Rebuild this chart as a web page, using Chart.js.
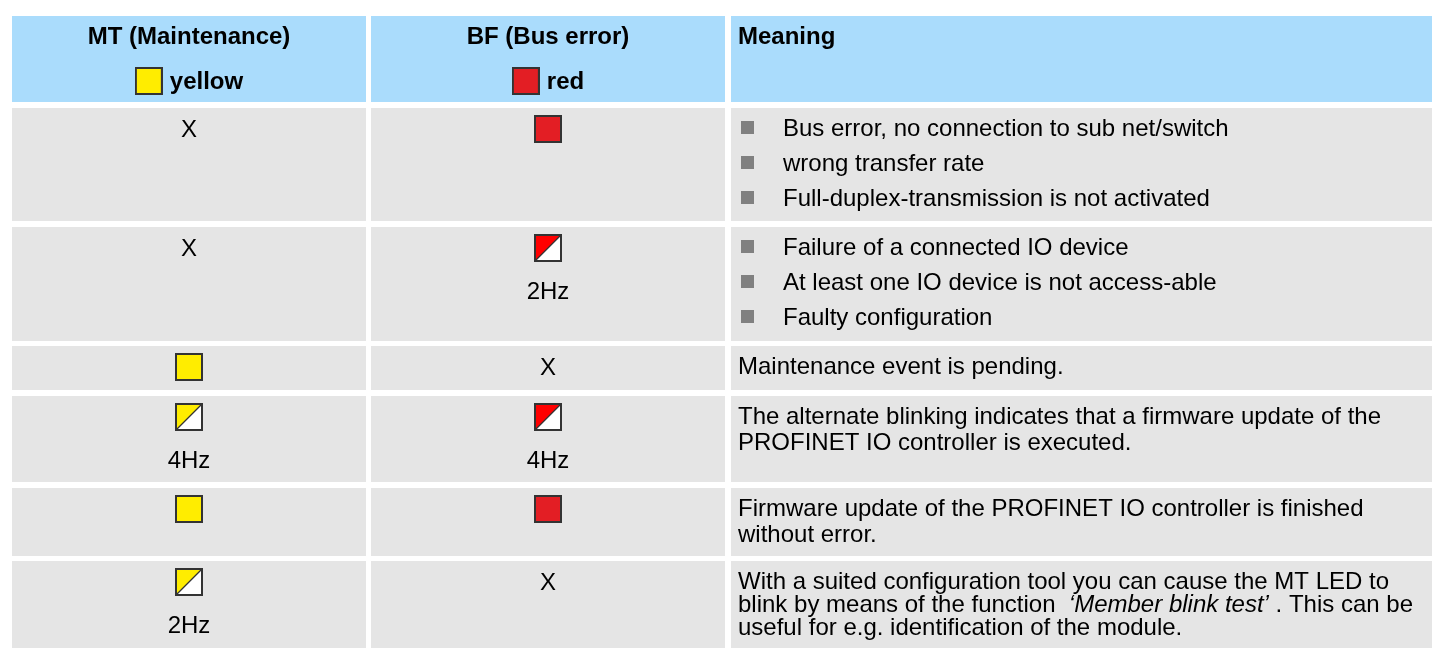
<!DOCTYPE html>
<html>
<head>
<meta charset="utf-8">
<script src="https://cdn.jsdelivr.net/npm/chart.js@4.4.1/dist/chart.umd.min.js"></script>
<style>
    html, body { margin: 0; padding: 0; background: #ffffff; }
    #wrap { width: 1432px; height: 648px; }
</style>
</head>
<body>
<div id="wrap"><canvas id="ledTable" width="1432" height="648"></canvas></div>
<script>
const columnTitles = ['MT (Maintenance)', 'BF (Bus error)', 'Meaning'];
const columnColours = ['yellow', 'red', ''];
const mtLed = ['X', 'X', 'on', 'blink', 'on', 'blink'];
const mtFreq = ['', '', '', '4Hz', '', '2Hz'];
const bfLed = ['on', 'blink', 'X', 'blink', 'on', 'X'];
const bfFreq = ['', '2Hz', '', '4Hz', '', ''];
const meaningBullets = [true, true, false, false, false, false];
const meaningLines = [
    ['Bus error, no connection to sub net/switch', 'wrong transfer rate', 'Full-duplex-transmission is not activated'],
    ['Failure of a connected IO device', 'At least one IO device is not access-able', 'Faulty configuration'],
    ['Maintenance event is pending.'],
    ['The alternate blinking indicates that a firmware update of the', 'PROFINET IO controller is executed.'],
    ['Firmware update of the PROFINET IO controller is finished', 'without error.'],
    ['With a suited configuration tool you can cause the MT LED to',
        'blink by means of the function  _\u2018Member blink test\u2019_ . This can be',
        'useful for e.g. identification of the module.']
];

// page layout, in pixels of the 1432x648 page
const COL_EDGES = [[12, 366], [371, 725], [731, 1432]];
const ROW_EDGES = [[16, 102], [108, 221], [227, 341], [346, 390], [396, 482], [488, 556], [561, 648]];
const LINE_HEIGHTS = [35, 35, 26, 26, 26, 23];
const HEADER_BLUE = '#aadcfc';
const CELL_GREY = '#e5e5e5';
const LED_FILL = { yellow: '#ffed00', red: '#e31e24' };
const BLINK_FILL = { yellow: '#ffed00', red: '#ff0000' };
const FONT = '"Liberation Sans", Arial, Helvetica, sans-serif';

function ledImage(colour, blinking) {
    const c = document.createElement('canvas');
    c.width = 28;
    c.height = 28;
    const g = c.getContext('2d');
    if (blinking) {
        g.fillStyle = '#ffffff';
        g.fillRect(1, 1, 26, 26);
        g.fillStyle = BLINK_FILL[colour];
        g.beginPath();
        g.moveTo(1, 1);
        g.lineTo(27, 1);
        g.lineTo(1, 27);
        g.closePath();
        g.fill();
        g.strokeStyle = '#333333';
        g.lineWidth = 1.2;
        g.beginPath();
        g.moveTo(1, 27);
        g.lineTo(27, 1);
        g.stroke();
    } else {
        g.fillStyle = LED_FILL[colour];
        g.fillRect(1, 1, 26, 26);
    }
    g.strokeStyle = '#333333';
    g.lineWidth = 2;
    g.strokeRect(1, 1, 26, 26);
    return c;
}

const colCentre = (i) => (COL_EDGES[i][0] + COL_EDGES[i][1]) / 2;
const ledRowY = (r) => ROW_EDGES[r + 1][0] + 21;

function ledDataset(states, colIndex) {
    const points = [];
    const styles = [];
    states.forEach((state, r) => {
        if (state === 'X') return;
        points.push({ x: colCentre(colIndex), y: ledRowY(r) });
        styles.push(ledImage(columnColours[colIndex], state === 'blink'));
    });
    return {
        label: columnTitles[colIndex],
        data: points,
        pointStyle: styles,
        pointRadius: 14,
        clip: false
    };
}

const tablePlugin = {
    id: 'tablePlugin',
    beforeDatasetsDraw(chart) {
        const { ctx, scales: { x, y } } = chart;
        ctx.save();

        // cell backgrounds
        ROW_EDGES.forEach((row, r) => {
            COL_EDGES.forEach((col) => {
                const left = x.getPixelForValue(col[0]);
                const right = x.getPixelForValue(col[1]);
                const top = y.getPixelForValue(row[0]);
                const bottom = y.getPixelForValue(row[1]);
                ctx.fillStyle = r === 0 ? HEADER_BLUE : CELL_GREY;
                ctx.fillRect(left, top, right - left, bottom - top);
            });
        });

        // header
        ctx.fillStyle = '#000000';
        ctx.textBaseline = 'alphabetic';
        ctx.font = `bold 24px ${FONT}`;
        const headTop = ROW_EDGES[0][0];
        columnTitles.forEach((title, i) => {
            if (columnColours[i]) {
                ctx.textAlign = 'center';
                ctx.fillText(title, x.getPixelForValue(colCentre(i)), y.getPixelForValue(headTop + 28));
                const word = columnColours[i];
                const w = ctx.measureText(word).width;
                const total = 28 + 7 + w;
                const start = x.getPixelForValue(colCentre(i)) - total / 2;
                ctx.drawImage(ledImage(word, false), start, y.getPixelForValue(headTop + 51));
                ctx.textAlign = 'left';
                ctx.fillText(word, start + 35, y.getPixelForValue(headTop + 73));
            } else {
                ctx.textAlign = 'left';
                ctx.fillText(title, x.getPixelForValue(COL_EDGES[i][0] + 7), y.getPixelForValue(headTop + 28));
            }
        });

        // LED columns: X marks and blink frequencies
        ctx.font = `24px ${FONT}`;
        ctx.textAlign = 'center';
        [[mtLed, mtFreq], [bfLed, bfFreq]].forEach(([states, freqs], c) => {
            states.forEach((state, r) => {
                const cx = x.getPixelForValue(colCentre(c));
                if (state === 'X') {
                    ctx.fillText('X', cx, y.getPixelForValue(ledRowY(r) + 8));
                }
                if (freqs[r]) {
                    ctx.fillText(freqs[r], cx, y.getPixelForValue(ledRowY(r) + 51));
                }
            });
        });

        // meaning column
        ctx.textAlign = 'left';
        meaningLines.forEach((lines, r) => {
            const top = ROW_EDGES[r + 1][0];
            const left = COL_EDGES[2][0];
            lines.forEach((line, k) => {
                const base = top + 28 + k * LINE_HEIGHTS[r];
                let px = x.getPixelForValue(left + (meaningBullets[r] ? 52 : 7));
                if (meaningBullets[r]) {
                    ctx.fillStyle = '#808080';
                    ctx.fillRect(x.getPixelForValue(left + 10), y.getPixelForValue(base - 15), 13, 13);
                }
                ctx.fillStyle = '#000000';
                line.split('_').forEach((part, p) => {
                    ctx.font = `${p % 2 ? 'italic ' : ''}24px ${FONT}`;
                    ctx.fillText(part, px, y.getPixelForValue(base));
                    px += ctx.measureText(part).width;
                });
            });
        });

        ctx.restore();
    }
};

new Chart(document.getElementById('ledTable'), {
    type: 'scatter',
    data: {
        datasets: [ledDataset(mtLed, 0), ledDataset(bfLed, 1)]
    },
    options: {
        responsive: false,
        devicePixelRatio: 1,
        animation: false,
        events: [],
        layout: { padding: 0, autoPadding: false },
        plugins: {
            legend: { display: false },
            tooltip: { enabled: false }
        },
        scales: {
            x: { type: 'linear', min: 0, max: 1432, display: false },
            y: { type: 'linear', min: 0, max: 648, reverse: true, display: false }
        }
    },
    plugins: [tablePlugin]
});
</script>
</body>
</html>
